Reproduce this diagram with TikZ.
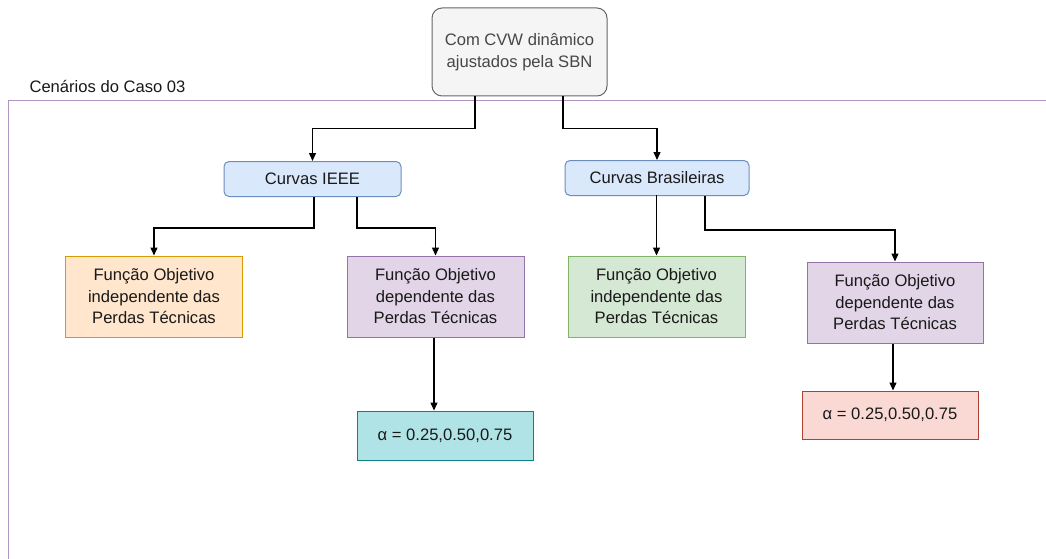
\documentclass[tikz,border=0pt]{standalone}
\usepackage{fontspec}
\setmainfont{Liberation Sans}
\usetikzlibrary{positioning,arrows.meta,calc}
\definecolor{topfill}{HTML}{F5F5F5}
\definecolor{topline}{HTML}{666666}
\definecolor{bluefill}{HTML}{DAE8FC}
\definecolor{blueline}{HTML}{6C8EBF}
\definecolor{orafill}{HTML}{FFE6CC}
\definecolor{oraline}{HTML}{D79B00}
\definecolor{purfill}{HTML}{E1D5E7}
\definecolor{purline}{HTML}{9673A6}
\definecolor{grefill}{HTML}{D5E8D4}
\definecolor{greline}{HTML}{82B366}
\definecolor{cyafill}{HTML}{B0E3E6}
\definecolor{cyaline}{HTML}{0E8088}
\definecolor{redfill}{HTML}{FAD9D5}
\definecolor{redline}{HTML}{AE4132}
\definecolor{framecol}{HTML}{B294C2}

\begin{document}
\begin{tikzpicture}[x=1pt,y=-1pt,
	box/.style={draw, line width=1pt, align=center, inner sep=0pt,
		minimum width=177pt, minimum height=81pt,
		font=\fontsize{16.6}{21.5}\selectfont, text=black!90},
	curve/.style={box, rounded corners=5pt, fill=bluefill, draw=blueline, minimum height=35pt},
	conn/.style={line width=1.3pt, -{Triangle[length=8pt,width=7pt]}}]
	\useasboundingbox (0,0) rectangle (1046,559);
%	frame of the scenarios
	\draw[framecol, line width=1pt] (1046,101) -| (8,559);
	\node[anchor=west, font=\fontsize{16.6}{21.5}\selectfont, text=black!90] (lbl) at (26,86) {Cenários do Caso 03};

	\node[box, rounded corners=10pt, fill=topfill, draw=topline, text=black!72,
		minimum width=175pt, minimum height=88pt] (top) at (519.5,52) {Com CVW dinâmico\\ajustados pela SBN};

	\node[curve, minimum width=177pt] (ieee) at (312.5,179) {Curvas IEEE};
	\node[curve, minimum width=184pt] (bras) at (657,178) {Curvas Brasileiras};

	\node[box, fill=orafill, draw=oraline] (fo1) at (154,296.5) {Função Objetivo\\independente das\\Perdas Técnicas};
	\node[box, fill=purfill, draw=purline] (fo2) at (435.5,296.5) {Função Objetivo\\dependente das\\Perdas Técnicas};
	\node[box, fill=grefill, draw=greline] (fo3) at (656.5,296.5) {Função Objetivo\\independente das\\Perdas Técnicas};
	\node[box, fill=purfill, draw=purline, minimum width=176pt] (fo4) at (895,302.5) {Função Objetivo\\dependente das\\Perdas Técnicas};

	\node[box, fill=cyafill, draw=cyaline, minimum width=176pt, minimum height=49pt] (al1) at (445,435.5) {α = 0.25,0.50,0.75};
	\node[box, fill=redfill, draw=redline, minimum width=176pt, minimum height=48pt] (al2) at (890,415) {α = 0.25,0.50,0.75};

%	connectors
	\draw[conn] ([xshift=-44.5pt]top.south) -- ++(0,32) -| (ieee.north);
	\draw[conn] ([xshift=43.5pt]top.south) -- ++(0,32) -| (bras.north);
	\draw[conn] ([xshift=1.5pt]ieee.south) -- ++(0,31) -| (fo1.north);
	\draw[conn] ([xshift=44.5pt]ieee.south) -- ++(0,31) -| (fo2.north);
	\draw[conn] ([xshift=-1pt]bras.south) -- (bras.south -| fo3.north) -- (fo3.north);
	\draw[conn] ([xshift=48pt]bras.south) -- ++(0,34) -| (fo4.north);
	\draw[conn] ([xshift=-1.5pt]fo2.south) -- ([xshift=-1.5pt]fo2.south |- al1.north);
	\draw[conn] ([xshift=-2pt]fo4.south) -- ([xshift=-2pt]fo4.south |- al2.north);
\end{tikzpicture}
\end{document}
